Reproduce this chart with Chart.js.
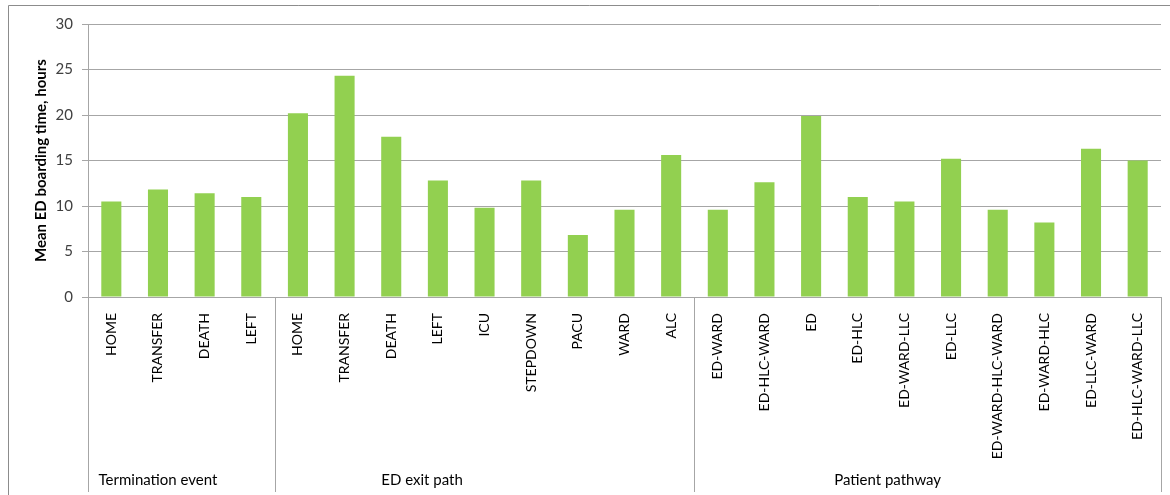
<!DOCTYPE html>
<html>
<head>
<meta charset="utf-8">
<script src="https://cdn.jsdelivr.net/npm/chart.js@4/dist/chart.umd.min.js"></script>
<style>
  html, body { margin: 0; padding: 0; background: #fff; }
  canvas { display: block; }
</style>
</head>
<body>
<canvas id="myChart" width="1170" height="495"></canvas>
<script>
// categories, grouped along the axis
const groupNames = ["Termination event", "ED exit path", "Patient pathway"];
const groupSizes = [4, 9, 10];
const labels = [
  "HOME", "TRANSFER", "DEATH", "LEFT",
  "HOME", "TRANSFER", "DEATH", "LEFT", "ICU", "STEPDOWN", "PACU", "WARD", "ALC",
  "ED-WARD", "ED-HLC-WARD", "ED", "ED-HLC", "ED-WARD-LLC", "ED-LLC",
  "ED-WARD-HLC-WARD", "ED-WARD-HLC", "ED-LLC-WARD", "ED-HLC-WARD-LLC",
];
// mean boarding time in hours
const meanHours = [
  10.5, 11.8, 11.4, 11.0,
  20.2, 24.3, 17.6, 12.8, 9.8, 12.8, 6.8, 9.6, 15.6,
  9.6, 12.6, 19.9, 11.0, 10.5, 15.2, 9.6, 8.2, 16.3, 15.0,
];
const yTicks = [0, 5, 10, 15, 20, 25, 30];

const FONT = "Lato, 'Liberation Sans', sans-serif";
const lineGray = "#a6a6a6";

// frame, group separators and group names under the category labels
const groupAxis = {
  id: "groupAxis",
  afterDraw(chart) {
    const ctx = chart.ctx;
    const x = chart.scales.x;
    const top = chart.chartArea.bottom;
    const bottom = 492;
    ctx.save();
    ctx.strokeStyle = lineGray;
    ctx.lineWidth = 1;
    let start = 0;
    const bounds = [0];
    groupSizes.forEach((n) => { start += n; bounds.push(start); });
    bounds.forEach((b) => {
      const px = Math.round(x.getPixelForValue(b - 0.5)) + 0.5;
      ctx.beginPath();
      ctx.moveTo(px, top);
      ctx.lineTo(px, bottom);
      ctx.stroke();
    });
    // group names sit a little left of centre, as in the original workbook
    const labelAt = [1.0, 6.66, 16.64];
    ctx.fillStyle = "#000";
    ctx.font = "15px " + FONT;
    ctx.textAlign = "center";
    ctx.textBaseline = "middle";
    groupNames.forEach((g, i) => {
      ctx.fillText(g, x.getPixelForValue(labelAt[i]), 480);
    });
    // outer chart frame
    ctx.strokeStyle = "#8c8c8c";
    ctx.beginPath();
    ctx.moveTo(8.5, 495);
    ctx.lineTo(8.5, 5.5);
    ctx.lineTo(1170, 5.5);
    ctx.stroke();
    ctx.restore();
  },
};

const data = {
  labels: labels,
  datasets: [
    {
      label: "Mean ED boarding time",
      data: meanHours,
      backgroundColor: "#92d050",
      borderWidth: 0,
      categoryPercentage: 1,
      barPercentage: 0.43,
    },
  ],
};

const config = {
  type: "bar",
  data: data,
  plugins: [groupAxis],
  options: {
    responsive: false,
    animation: false,
    layout: { padding: { top: 24, right: 9, bottom: 0, left: 0 } },
    plugins: {
      legend: { display: false },
      tooltip: { enabled: false },
    },
    scales: {
      x: {
        grid: { display: false },
        border: { display: true, color: lineGray },
        ticks: {
          color: "#000",
          font: { family: FONT, size: 14 },
          minRotation: 90,
          maxRotation: 90,
          autoSkip: false,
          padding: 8,
        },
        afterFit: (scale) => { scale.height = 198; },
      },
      y: {
        min: 0,
        max: 30,
        afterBuildTicks: (scale) => { scale.ticks = yTicks.map((v) => ({ value: v })); },
        grid: { color: lineGray, tickLength: 6 },
        border: { display: true, color: lineGray },
        ticks: {
          color: "#404040",
          font: { family: FONT, size: 15 },
          padding: 9,
        },
        title: {
          display: true,
          text: "Mean ED boarding time, hours",
          color: "#000",
          font: { family: FONT, size: 15, weight: "bold" },
          padding: { top: 32, bottom: 0 },
        },
        afterFit: (scale) => { scale.width = 88; },
      },
    },
  },
};

const myChart = new Chart(document.getElementById("myChart"), config);
</script>
</body>
</html>
